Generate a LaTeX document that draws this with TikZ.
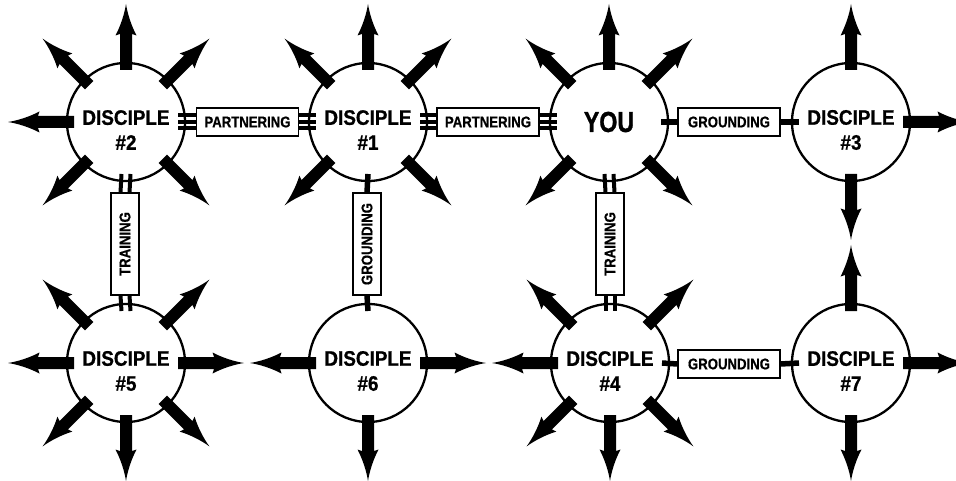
\documentclass[tikz,border=0pt]{standalone}
\usepackage{fontspec}
\newfontfamily\discfont{Liberation Sans}[FakeStretch=0.9, FakeBold=0.8]
\newfontfamily\boxfont{Liberation Sans}[FakeStretch=0.85, FakeBold=0.6]
\newfontfamily\youfont{Liberation Sans}[FakeStretch=0.8, FakeBold=1]
\usetikzlibrary{calc}
\tikzset{
  disc/.style={circle, draw, line width=2.3pt, fill=white, minimum size=118pt, inner sep=0pt},
  dlab/.style={font=\discfont\bfseries\fontsize{21}{25}\selectfont, align=center, inner sep=0pt, yshift=-8pt},
  lbox/.style={draw, line width=1.1pt, fill=white, minimum width=102pt, minimum height=28pt, inner sep=0pt,
    font=\boxfont\bfseries\fontsize{15.5}{18}\selectfont},
  vbox/.style={lbox, rotate=90},
  tbar/.style={line width=4pt},
  sbar/.style={line width=5.5pt},
  dbar/.style={line width=4pt},
}
\newcommand\spoke[2]{\fill[shift={(#1.center)}, rotate=#2]
  (52,-6) -- (88,-6) -- (86.5,-10.5) .. controls (96,-5.5) and (108,-1.5) .. (118,0)
  .. controls (108,1.5) and (96,5.5) .. (86.5,10.5) -- (88,6) -- (52,6) -- cycle;}
\begin{document}
\begin{tikzpicture}[x=1pt, y=-1pt]
\useasboundingbox (0,0) rectangle (956,481);
% circles
\node[disc, label={[dlab]center:{DISCIPLE\\\#2}}] (d2) at (126,122) {};
\node[disc, label={[dlab]center:{DISCIPLE\\\#1}}] (d1) at (368,122) {};
\node[disc, font=\youfont\bfseries\fontsize{29}{30}\selectfont] (you) at (609,122) {YOU};
\node[disc, label={[dlab]center:{DISCIPLE\\\#3}}] (d3) at (851,122) {};
\node[disc, label={[dlab]center:{DISCIPLE\\\#5}}] (d5) at (126,363) {};
\node[disc, label={[dlab]center:{DISCIPLE\\\#6}}] (d6) at (368,363) {};
\node[disc, label={[dlab]center:{DISCIPLE\\\#4}}] (d4) at (610,363) {};
\node[disc, label={[dlab]center:{DISCIPLE\\\#7}}] (d7) at (851,363) {};
% boxes
\node[lbox] (p1) at (247.5,122) {PARTNERING};
\node[lbox] (p2) at (488,122) {PARTNERING};
\node[lbox] (g1) at (729,122) {GROUNDING};
\node[vbox] (t1) at (125,244) {TRAINING};
\node[vbox] (g2) at (367,244) {GROUNDING};
\node[vbox] (t2) at (610,244) {TRAINING};
\node[lbox] (g3) at (729,364) {GROUNDING};
% triple bars (partnering)
\foreach \o in {-6.5,0,6.5}{
  \draw[tbar] ($(d2.center)+(52,\o)$) -- ($(p1.west)+(0,\o)$);
  \draw[tbar] ($(p1.east)+(0,\o)$) -- ($(d1.center)+(-52,\o)$);
  \draw[tbar] ($(d1.center)+(52,\o)$) -- ($(p2.west)+(0,\o)$);
  \draw[tbar] ($(p2.east)+(0,\o)$) -- ($(you.center)+(-52,\o)$);
}
% double bars (training)
\foreach \o in {-4.5,4.5}{
  \draw[dbar] ($(d2.center)+(\o,52)$) -- ($(t1.east)+(\o,0)$);
  \draw[dbar] ($(t1.west)+(\o,0)$) -- ($(d5.center)+(\o,-52)$);
  \draw[dbar] ($(you.center)+(\o,52)$) -- ($(t2.east)+(\o,0)$);
  \draw[dbar] ($(t2.west)+(\o,0)$) -- ($(d4.center)+(\o,-52)$);
}
% single bars (grounding)
\draw[sbar] ($(you.center)+(52,0)$) -- (g1.west);
\draw[sbar] (g1.east) -- ($(d3.center)+(-52,0)$);
\draw[sbar] ($(d4.center)+(52,0)$) -- (g3.west);
\draw[sbar] (g3.east) -- ($(d7.center)+(-52,0)$);
\draw[sbar] ($(d1.center)+(0,52)$) -- (g2.east);
\draw[sbar] (g2.west) -- ($(d6.center)+(0,-52)$);
% outward arrows
\foreach \a in {90,45,135,180,225,315} {\spoke{d2}{\a}}
\foreach \a in {90,45,135,225,315} {\spoke{d1}{\a}}
\foreach \a in {90,45,135,225,315} {\spoke{you}{\a}}
\foreach \a in {90,0,270} {\spoke{d3}{\a}}
\foreach \a in {45,135,180,0,225,270,315} {\spoke{d5}{\a}}
\foreach \a in {180,0,270} {\spoke{d6}{\a}}
\foreach \a in {45,135,180,225,270,315} {\spoke{d4}{\a}}
\foreach \a in {90,0,270} {\spoke{d7}{\a}}
\end{tikzpicture}
\end{document}
